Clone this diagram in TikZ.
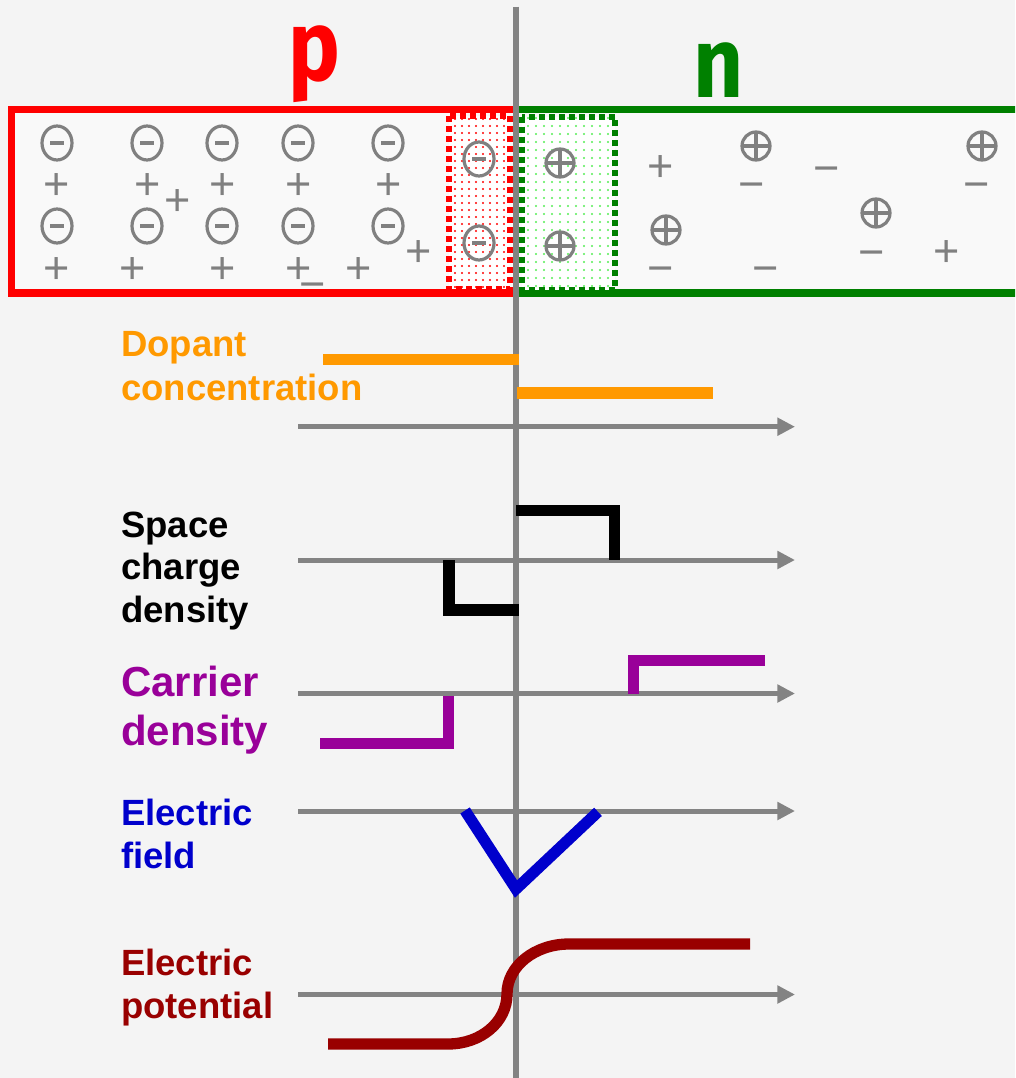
\documentclass[tikz,border=0pt]{standalone}
\usepackage{fontspec}
\setmainfont{Liberation Sans}
\newfontfamily\pnfont{Fira Sans}[FakeStretch=0.87]
\usetikzlibrary{arrows.meta,shapes.geometric,patterns.meta}
\definecolor{bg}{HTML}{F4F4F4}
\definecolor{chg}{HTML}{808080}
\definecolor{axisgray}{HTML}{838383}
\definecolor{pred}{HTML}{FF0000}
\definecolor{ngreen}{HTML}{008000}
\definecolor{lgreen}{HTML}{55EE55}
\definecolor{dopc}{HTML}{FF9900}
\definecolor{carc}{HTML}{990099}
\definecolor{fieldc}{HTML}{0000CC}
\definecolor{potc}{HTML}{990000}
\tikzset{
  lab/.style={anchor=base west, inner sep=0pt, font=\bfseries\fontsize{36.5}{44}\selectfont},
  labbig/.style={anchor=base west, inner sep=0pt, font=\bfseries\fontsize{42}{49}\selectfont},
  negion/.style={ellipse, draw=chg, line width=3.2pt, minimum width=30pt, minimum height=34pt, inner sep=0pt,
    path picture={\draw[chg, line width=4.6pt] ([xshift=-7pt]path picture bounding box.center) -- ([xshift=7pt]path picture bounding box.center);}},
  posion/.style={circle, draw=chg, line width=3.2pt, minimum size=28pt, inner sep=0pt,
    path picture={\draw[chg, line width=3.2pt] (path picture bounding box.north) -- (path picture bounding box.south)
      (path picture bounding box.west) -- (path picture bounding box.east);}},
  sgn/.style={anchor=base, inner sep=0pt, text=chg, font=\fontsize{45}{45}\selectfont},
  axisline/.style={draw=axisgray, line width=5pt, -{Triangle[length=17.7pt,width=17.3pt]}},
  curve/.style={line width=11.3pt, miter limit=10},
  boxline/.style={line width=7.8pt},
  dashbox/.style={line width=6pt, dash pattern=on 6pt off 4pt},
  letter/.style={anchor=base, inner sep=0pt, font=\pnfont\bfseries\fontsize{100}{100}\selectfont}
}
\begin{document}
\begin{tikzpicture}[x=1pt,y=-1pt]
\useasboundingbox (0,0) rectangle (1015,1078);
\clip (0,0) rectangle (1015,1078);
\fill[bg] (0,0) rectangle (1015,1078);

% p and n boxes
\fill[white!45!bg] (11.5,109.5) rectangle (1030,293);
\draw[pred, boxline] (516,109.5) -- (11.5,109.5) -- (11.5,293) -- (516,293);
\draw[ngreen, boxline] (516,109.5) -- (1030,109.5) (516,293) -- (1030,293);

% depletion regions
\fill[white] (449,116) rectangle (509.5,289);
\fill[pattern={Dots[distance=7pt, radius=1.1pt]}, pattern color=pred] (449,116) rectangle (509.5,289);
\draw[pred, dashbox] (449,116) rectangle (509.5,289);
\fill[white] (522,116.7) rectangle (615,290);
\fill[pattern={Dots[distance=8pt, radius=1.1pt]}, pattern color=lgreen] (522,116.7) rectangle (615,290);
\draw[ngreen, dashbox] (522,116.7) rectangle (615,290);

% ions in p region
\foreach \x [count=\i] in {57,147,222,298,388} {
  \node[negion] (na\i) at (\x,143) {};
  \node[negion] (nb\i) at (\x,226) {};
}
\node[negion] (nd1) at (479,159) {};
\node[negion] (nd2) at (479,243) {};
% ions in n region
\node[posion] (pd1) at (560,163) {};
\node[posion] (pd2) at (560,246) {};
\node[posion] (pa1) at (756,146) {};
\node[posion] (pa2) at (982,146) {};
\node[posion] (pa3) at (666,230) {};
\node[posion] (pa4) at (876,213) {};

% free carriers (+ holes, - electrons)
\node[sgn] (h1) at (57,200) {+};
\node[sgn] (h2) at (148,200) {+};
\node[sgn] (h3) at (178,215) {+};
\node[sgn] (h4) at (223,200) {+};
\node[sgn] (h5) at (299,200) {+};
\node[sgn] (h6) at (389,200) {+};
\node[sgn] (h7) at (57,283) {+};
\node[sgn] (h8) at (133,283) {+};
\node[sgn] (h9) at (223,283) {+};
\node[sgn] (h10) at (299,283) {+};
\node[sgn] (h11) at (359,283) {+};
\node[sgn] (h12) at (419,266) {+};
\node[sgn] (h13) at (661,182) {+};
\node[sgn] (h14) at (947,266) {+};
\node[sgn] (e1) at (313,299) {−};
\node[sgn] (e2) at (827,183) {−};
\node[sgn] (e3) at (752,200) {−};
\node[sgn] (e4) at (977,200) {−};
\node[sgn] (e5) at (661,283) {−};
\node[sgn] (e6) at (766,283) {−};
\node[sgn] (e7) at (872,267) {−};

% p / n letters
\node[letter, text=pred] (plet) at (314,81) {p};
\node[letter, text=ngreen] (nlet) at (719,98) {n};

% junction line
\draw[axisgray, line width=5.3pt] (516,6.7) -- (516,1090);

% axes
\draw[axisline] (298,426.7) -- (795,426.7);
\draw[axisline] (298,560) -- (795,560);
\draw[axisline] (298,693.5) -- (795,693.5);
\draw[axisline] (298,811) -- (795,811);
\draw[axisline] (298,994.5) -- (795,994.5);

% dopant concentration
\draw[dopc, curve] (323,359.7) -- (519,359.7);
\draw[dopc, curve] (516.7,393) -- (712.7,393);
% space charge density
\draw[black, curve] (516,510.5) -- (614.5,510.5) -- (614.5,560);
\draw[black, curve] (449,560) -- (449,610) -- (519,610);
% carrier density
\draw[carc, curve] (633.2,693.5) -- (633.2,660.5) -- (765,660.5);
\draw[carc, curve] (448.8,696) -- (448.8,743.8) -- (320,743.8);
% electric field
\draw[fieldc, curve] (465,810.5) -- (516,889) -- (598,811.8);
% electric potential
\draw[potc, curve] (328,1044) -- (448,1044) .. controls (481,1044) and (507,1022) .. (507,994)
  .. controls (507,966) and (535,944) .. (569,944) -- (750,944);

% labels
\node[lab, text=dopc] (dop1) at (121,356) {Dopant};
\node[lab, text=dopc] (dop2) at (121,400) {concentration};
\node[lab, text=black] (sp1) at (121,537) {Space};
\node[lab, text=black] (sp2) at (121,579) {charge};
\node[lab, text=black] (sp3) at (121,622) {density};
\node[labbig, text=carc] (car1) at (121,696) {Carrier};
\node[labbig, text=carc] (car2) at (121,745) {density};
\node[lab, text=fieldc] (ef1) at (121,825) {Electric};
\node[lab, text=fieldc] (ef2) at (121,868) {field};
\node[lab, text=potc] (ep1) at (121,975) {Electric};
\node[lab, text=potc] (ep2) at (121,1018) {potential};
\end{tikzpicture}
\end{document}
